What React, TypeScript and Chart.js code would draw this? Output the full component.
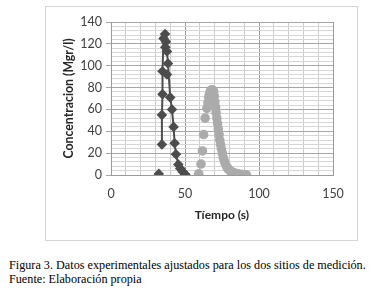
import React, { useEffect, useRef } from "react";
import { Chart, registerables } from "chart.js";

Chart.register(...registerables);

// Site 1 (dark diamonds) – experimental points
const site1X = [32.3, 34.4, 34.4, 34.8, 34.8, 35.5, 36.5, 37.1, 36.7, 37.8, 38.5, 37.8, 40.0, 41.2, 42.3, 43.0, 43.9, 45.5, 46.8, 48.4, 50.2];
const site1Y = [1, 28, 55, 74, 95, 125, 129, 122, 117, 113, 102, 92, 71, 60, 44, 29, 19, 9.5, 6, 3, 0.6];
// Site 1 fitted line path
const fit1X = [34.4, 34.4, 34.8, 34.8, 35.5, 36.5, 37.1, 37.8, 38.5, 39.2, 40.0, 41.2, 42.3, 43.0, 43.9, 45.5, 46.8, 48.4, 50.2];
const fit1Y = [28, 55, 74, 95, 125, 129, 122, 113, 102, 88, 71, 60, 44, 29, 19, 9.5, 6, 3, 0.6];

// Site 2 (light circles)
const site2X = [59.3, 60.8, 61.8, 62.6, 63.6, 64.8, 65.5, 66.0, 66.5, 67.2, 68.0, 68.8, 69.4, 69.8, 70.2, 70.6, 71.0, 71.5, 72.0, 72.5, 73.0, 73.5, 74.0, 74.6, 75.2, 75.8, 76.5, 77.3, 78.2, 79.2, 80.3, 81.5, 82.8, 84.2, 85.7, 87.2, 88.7, 90.2, 91.5];
const site2Y = [1, 10, 22, 37, 52, 61, 66, 71, 74, 77, 78, 77.5, 76, 72, 67, 62, 57, 52, 47, 42, 37, 32, 28, 24, 20, 16, 13, 10, 7.5, 5.5, 4, 3, 2, 1.5, 1, 0.7, 0.4, 0.2, 0.1];

const xTickStep = 10;
const xLabelStep = 50;
const yTickStep = 4;
const yLabelStep = 20;

const toPts = (xs: number[], ys: number[]) => xs.map((x, i) => ({ x, y: ys[i] }));

export default function App() {
  const ref = useRef<HTMLCanvasElement | null>(null);

  useEffect(() => {
    if (!ref.current) return;
    const dark = "#4d4d4d";
    const light = "#ababab";
    const chart = new Chart(ref.current, {
      type: "scatter",
      data: {
        datasets: [
          {
            data: toPts(site2X, site2Y),
            pointStyle: "circle",
            pointRadius: 4.8,
            backgroundColor: light,
            borderColor: light,
            borderWidth: 0,
            showLine: false,
          },
          {
            data: toPts(fit1X, fit1Y),
            showLine: true,
            pointRadius: 0,
            borderColor: dark,
            borderWidth: 2,
            tension: 0,
          },
          {
            data: toPts(site1X, site1Y),
            pointStyle: "rectRot",
            pointRadius: 5.3,
            backgroundColor: dark,
            borderColor: dark,
            borderWidth: 0,
            showLine: false,
          },
        ],
      },
      options: {
        animation: false,
        responsive: false,
        devicePixelRatio: 1,
        layout: { padding: { left: 0, top: 15, right: 24, bottom: 0 } },
        plugins: { legend: { display: false }, tooltip: { enabled: false } },
        scales: {
          x: {
            type: "linear",
            min: 0,
            max: 150,
            afterFit: (s: any) => { s.height = 65; },
            ticks: {
              stepSize: xTickStep,
              autoSkip: false,
              maxRotation: 0,
              padding: 6,
              color: "#404040",
              font: { family: "Lato", size: 12.5 },
              callback: (v: any) => (Number(v) % xLabelStep === 0 ? String(v) : ""),
            },
            grid: {
              color: (c: any) => (c.tick && c.tick.value % xLabelStep === 0 ? "#9a9a9a" : "#cccccc"),
              tickColor: "rgba(0,0,0,0)",
              tickLength: 5,
              lineWidth: 1,
            },
            border: { color: "#9a9a9a" },
            title: {
              display: true,
              text: "Tíempo (s)",
              color: "#262626",
              font: { family: "Lato", size: 12, weight: "bold" },
              padding: { top: 0, bottom: 18 },
            },
          },
          y: {
            type: "linear",
            min: 0,
            max: 140,
            afterFit: (s: any) => { s.width = 65; },
            ticks: {
              stepSize: yTickStep,
              autoSkip: false,
              padding: 4,
              color: "#404040",
              font: { family: "Lato", size: 12.5 },
              callback: (v: any) => (Number(v) % yLabelStep === 0 ? String(v) : ""),
            },
            grid: {
              color: (c: any) => (c.tick && c.tick.value % yLabelStep === 0 ? "#a6a6a6" : "#d6d6d6"),
              tickColor: (c: any) => (c.tick && c.tick.value % yLabelStep === 0 ? "#a6a6a6" : "rgba(0,0,0,0)"),
              tickLength: 5,
              lineWidth: 1,
            },
            border: { color: "#9a9a9a" },
            title: {
              display: true,
              text: "Concentracion (Mgr/l)",
              color: "#262626",
              font: { family: "Lato", size: 12.3, weight: "bold" },
              padding: { top: 16, bottom: 0 },
            },
          },
        },
      },
    });
    return () => chart.destroy();
  }, []);

  return (
    <div style={{ position: "absolute", left: 0, top: 0, width: 380, height: 299, background: "#fff", overflow: "hidden" }}>
      <div
        style={{
          position: "absolute",
          left: 45,
          top: 6,
          width: 311,
          height: 233,
          border: "1px solid #d4d4d4",
          background: "#fff",
        }}
      >
        <canvas ref={ref} width={311} height={233} style={{ display: "block", width: 311, height: 233 }} />
      </div>
      <div
        style={{
          position: "absolute",
          left: 9,
          top: 258,
          fontFamily: "'Liberation Serif', 'Times New Roman', serif",
          fontSize: 12.2,
          lineHeight: "14px",
          color: "#000",
          whiteSpace: "nowrap",
        }}
      >
        <div>Figura 3. Datos experimentales ajustados para los dos sitios de medición.</div>
        <div>Fuente: Elaboración propia</div>
      </div>
    </div>
  );
}
